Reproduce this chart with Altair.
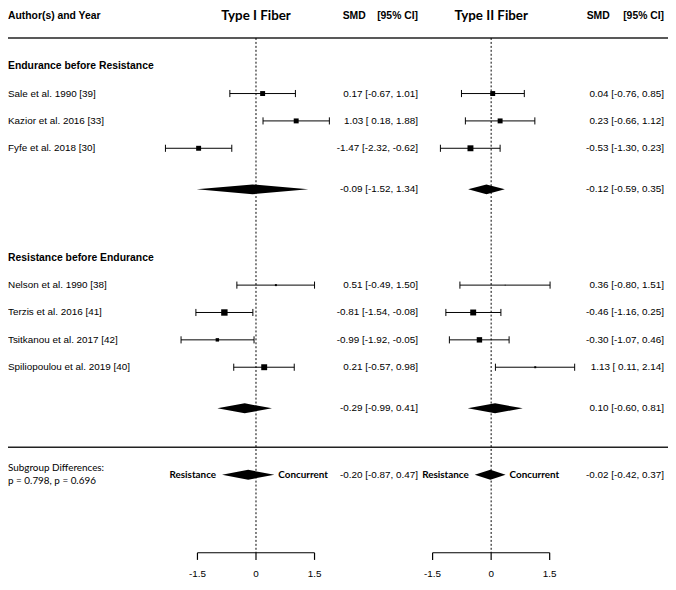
import altair as alt
import pandas as pd

# ---------------- data ----------------
study_labels = ["Sale et al. 1990 [39]", "Kazior et al. 2016 [33]", "Fyfe et al. 2018 [30]",
                "Nelson et al. 1990 [38]", "Terzis et al. 2016 [41]", "Tsitkanou et al. 2017 [42]",
                "Spiliopoulou et al. 2019 [40]"]
study_rows = [3, 4, 5, 10, 11, 12, 13]
group_labels = ["Endurance before Resistance", "Resistance before Endurance"]
group_rows = [2, 9]

t1_est = [0.17, 1.03, -1.47, 0.51, -0.81, -0.99, 0.21]
t1_lo = [-0.67, 0.18, -2.32, -0.49, -1.54, -1.92, -0.57]
t1_hi = [1.01, 1.88, -0.62, 1.50, -0.08, -0.05, 0.98]
t1_wt = [25, 25, 25, 4, 42, 12, 36]

t2_est = [0.04, 0.23, -0.53, 0.36, -0.46, -0.30, 1.13]
t2_lo = [-0.76, -0.66, -1.30, -0.80, -1.16, -1.07, 0.11]
t2_hi = [0.85, 1.12, 0.23, 1.51, 0.25, 0.46, 2.14]
t2_wt = [25, 25, 36, 1, 36, 30, 4]

sum_rows = [6.5, 14.5, 16.93]
t1_sum_est = [-0.09, -0.29, -0.20]
t1_sum_lo = [-1.52, -0.99, -0.87]
t1_sum_hi = [1.34, 0.41, 0.47]
t2_sum_est = [-0.12, 0.10, -0.02]
t2_sum_lo = [-0.59, -0.60, -0.42]
t2_sum_hi = [0.35, 0.81, 0.37]

panel_ids = ["I", "II"]
panel_titles = ["Type I Fiber", "Type II Fiber"]
axis_ticks = [-1.5, 0, 1.5]
subgroup_text = ["Subgroup Differences:", "p = 0.798, p = 0.696"]

# ---------------- layout ----------------
W, H = 668, 574
PX_UNIT = 39.5
ZERO1 = 251
SHIFT = round(238 / PX_UNIT, 4)
XDOM = [round(-ZERO1 / PX_UNIT, 4), round((W - ZERO1) / PX_UNIT, 4)]
ROW_PX = 27.7
YDOM = [0, round(H / ROW_PX, 4)]
OFF_EXPR = f"datum.panel == 'II' ? {SHIFT} : 0"
VAL_RIGHT = {"I": 415, "II": 664}
SMD_RIGHT = {"I": 362, "II": 609}
HEAD_ROW = 0.16
LINE_ROWS = [0.97, 15.92]
AXIS_ROW = 19.78
TICK_END = 20.04

xs = alt.Scale(domain=XDOM, nice=False, zero=False)
ys = alt.Scale(domain=YDOM, nice=False, zero=False, reverse=True)


def X(f):
    return alt.X(f, type="quantitative", scale=xs, axis=None)


def Y(f):
    return alt.Y(f, type="quantitative", scale=ys, axis=None)


def fmt(e, l, h):
    return f"{e:.2f} [{l:5.2f}, {h:5.2f}]"


rows = []
for p, est, lo, hi, wt in [("I", t1_est, t1_lo, t1_hi, t1_wt), ("II", t2_est, t2_lo, t2_hi, t2_wt)]:
    for i in range(len(study_labels)):
        rows.append(dict(panel=p, label=study_labels[i], row=study_rows[i], est=est[i],
                         lo=lo[i], hi=hi[i], wt=wt[i], txt=fmt(est[i], lo[i], hi[i])))
studies = pd.DataFrame(rows)

srows = []
for p, est, lo, hi in [("I", t1_sum_est, t1_sum_lo, t1_sum_hi), ("II", t2_sum_est, t2_sum_lo, t2_sum_hi)]:
    for i in range(len(sum_rows)):
        srows.append(dict(panel=p, sid=f"{p}{i}", row=sum_rows[i], est=est[i], lo=lo[i], hi=hi[i],
                          txt=fmt(est[i], lo[i], hi[i]), isub=int(i == len(sum_rows) - 1)))
summ = pd.DataFrame(srows)
diam = summ.melt(id_vars=["panel", "sid", "row"], value_vars=["lo", "est", "hi"],
                 var_name="kind", value_name="val")

panels = pd.DataFrame({"panel": panel_ids, "title": panel_titles})
ticks = pd.DataFrame([dict(panel=p, tick=t, lab=f"{t:g}") for p in panel_ids for t in axis_ticks])
lines = pd.DataFrame({"r": LINE_ROWS})
groups = pd.DataFrame({"label": group_labels, "row": group_rows})

BLACK = "#000000"

hlines = alt.Chart(lines).mark_rule(color="#222222", strokeWidth=1.5).encode(
    y=Y("r"), x=alt.value(0), x2=alt.value(W))

dotted = alt.Chart(panels).transform_calculate(xp=OFF_EXPR, ya=f"{LINE_ROWS[0]}", yb=f"{AXIS_ROW}").mark_rule(
    color=BLACK, strokeWidth=1, strokeDash=[2, 2]).encode(x=X("xp"), y=Y("ya"), y2="yb")

sbase = alt.Chart(studies).transform_calculate(off=OFF_EXPR).transform_calculate(
    xe="datum.est + datum.off", xl="datum.lo + datum.off", xh="datum.hi + datum.off",
    ya="datum.row - 0.13", yb="datum.row + 0.13")

whisk = sbase.mark_rule(color=BLACK, strokeWidth=1).encode(x=X("xl"), x2="xh", y=Y("row"))
cap_lo = sbase.mark_rule(color=BLACK, strokeWidth=1).encode(x=X("xl"), y=Y("ya"), y2="yb")
cap_hi = sbase.mark_rule(color=BLACK, strokeWidth=1).encode(x=X("xh"), y=Y("ya"), y2="yb")

squares = sbase.mark_square(color=BLACK, opacity=1, strokeWidth=0).encode(
    x=X("xe"), y=Y("row"),
    size=alt.Size("wt", type="quantitative", scale=alt.Scale(domain=[0, 50], range=[0, 50]), legend=None))

diamonds = alt.Chart(diam).transform_calculate(off=OFF_EXPR).transform_calculate(
    xp="datum.val + datum.off",
    ya="datum.kind == 'est' ? datum.row - 0.18 : datum.row",
    yb="datum.kind == 'est' ? datum.row + 0.18 : datum.row").mark_area(
    color=BLACK, opacity=1, orient="vertical").encode(
    x=X("xp"), y=Y("ya"), y2="yb", detail=alt.Detail("sid", type="nominal"))

axis_line = alt.Chart(panels).transform_calculate(off=OFF_EXPR).transform_calculate(
    a="-1.5 + datum.off", b="1.5 + datum.off", ya=f"{AXIS_ROW}").mark_rule(
    color=BLACK, strokeWidth=1.2).encode(x=X("a"), x2="b", y=Y("ya"))

tbase = alt.Chart(ticks).transform_calculate(off=OFF_EXPR).transform_calculate(
    tp="datum.tick + datum.off", ya=f"{AXIS_ROW}", yb=f"{TICK_END}", yl=f"{YDOM[1]}")
axis_ticks_l = tbase.mark_rule(color=BLACK, strokeWidth=1.2).encode(x=X("tp"), y=Y("ya"), y2="yb")
axis_labels = tbase.mark_text(font="Liberation Sans", fontSize=10, baseline="bottom",
                              align="center", color=BLACK).encode(
    x=X("tp"), y=Y("yl"), text=alt.Text("lab", type="nominal"))

TXT = dict(font="Liberation Sans", fontSize=10, color=BLACK, baseline="middle")


def const_text(t, xpix, row, align, **kw):
    style = {**TXT, **kw}
    return alt.Chart(pd.DataFrame({"t": [t], "row": [row]})).mark_text(align=align, **style).encode(
        x=alt.value(xpix), y=Y("row"), text=alt.Text("t", type="nominal"))


titles = alt.Chart(panels).transform_calculate(xp=OFF_EXPR, yr=f"{HEAD_ROW}").mark_text(
    font="Lato", fontSize=13.5, fontWeight="bold", align="center", baseline="middle", color=BLACK).encode(
    x=X("xp"), y=Y("yr"), text=alt.Text("title", type="nominal"))

study_txt = alt.Chart(studies[studies.panel == "I"]).mark_text(align="left", **TXT).encode(
    x=alt.value(0), y=Y("row"), text=alt.Text("label", type="nominal"))

group_txt = alt.Chart(groups).mark_text(align="left", fontWeight="bold", **{**TXT, "fontSize": 10.5}).encode(
    x=alt.value(0), y=Y("row"), text=alt.Text("label", type="nominal"))

layers = [hlines, dotted, whisk, cap_lo, cap_hi, squares, diamonds, axis_line, axis_ticks_l, axis_labels,
          const_text("Author(s) and Year", 0, HEAD_ROW, "left", fontWeight="bold", fontSize=10.5),
          titles, study_txt, group_txt]

for p in panel_ids:
    layers.append(alt.Chart(studies[studies.panel == p]).mark_text(align="right", **TXT).encode(
        x=alt.value(VAL_RIGHT[p]), y=Y("row"), text=alt.Text("txt", type="nominal")))
    layers.append(alt.Chart(summ[summ.panel == p]).mark_text(align="right", **TXT).encode(
        x=alt.value(VAL_RIGHT[p]), y=Y("row"), text=alt.Text("txt", type="nominal")))
    layers.append(const_text("[95% CI]", VAL_RIGHT[p], HEAD_ROW, "right", fontWeight="bold", fontSize=10.5))
    layers.append(const_text("SMD", SMD_RIGHT[p], HEAD_ROW, "right", fontWeight="bold", fontSize=10.5))

last = alt.Chart(summ[summ["isub"] == 1]).transform_calculate(off=OFF_EXPR).transform_calculate(
    xl="datum.lo + datum.off", xh="datum.hi + datum.off", r1="'Resistance'", r2="'Concurrent'")
layers.append(last.mark_text(font="Lato", fontSize=10, fontWeight="bold", align="right",
                             baseline="middle", dx=-6, color=BLACK).encode(
    x=X("xl"), y=Y("row"), text=alt.Text("r1", type="nominal")))
layers.append(last.mark_text(font="Lato", fontSize=10, fontWeight="bold", align="left",
                             baseline="middle", dx=4, color=BLACK).encode(
    x=X("xh"), y=Y("row"), text=alt.Text("r2", type="nominal")))

sub_df = pd.DataFrame({"t": subgroup_text, "row": [16.68, 17.15]})
layers.append(alt.Chart(sub_df).mark_text(font="Lato", fontSize=10, align="left", baseline="middle",
                                          color=BLACK).encode(
    x=alt.value(0), y=Y("row"), text=alt.Text("t", type="nominal")))

chart = alt.layer(*layers).properties(
    width=W, height=H, autosize=alt.AutoSizeParams(type="none"),
    padding={"left": 0, "top": 0, "right": 0, "bottom": 0}, background="white"
).configure_view(strokeWidth=0)

chart.save("out.html", embed_options={"renderer": "svg", "actions": False})
